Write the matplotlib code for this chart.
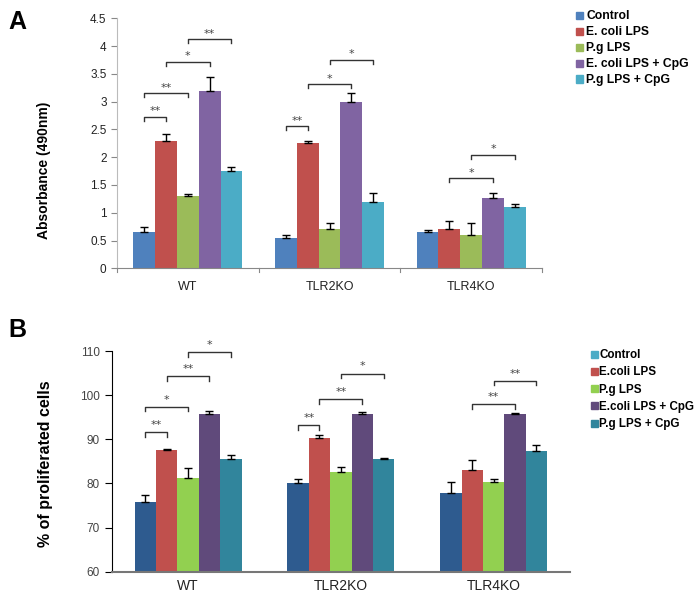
import numpy as np
import matplotlib
matplotlib.use("Agg")
from matplotlib import pyplot as plt

plt.rcParams["font.family"] = ["Liberation Sans", "DejaVu Sans"]

# Datos
grupos = ["WT", "TLR2KO", "TLR4KO"]

series_a = ["Control", "E. coli LPS", "P.g LPS", "E. coli LPS + CpG", "P.g LPS + CpG"]
valores_a = [
    [0.65, 0.55, 0.66],
    [2.30, 2.25, 0.70],
    [1.30, 0.70, 0.60],
    [3.20, 3.00, 1.26],
    [1.75, 1.20, 1.10],
]
errores_a = [
    [0.09, 0.05, 0.03],
    [0.12, 0.05, 0.15],
    [0.04, 0.11, 0.21],
    [0.24, 0.15, 0.10],
    [0.08, 0.15, 0.05],
]
colores_a = ["#4F81BD", "#C0504D", "#9BBB59", "#8064A2", "#4BACC6"]

series_b = ["Control", "E.coli LPS", "P.g LPS", "E.coli LPS + CpG", "P.g LPS + CpG"]
valores_b = [
    [75.9, 80.0, 77.9],
    [87.6, 90.4, 83.0],
    [81.2, 82.5, 80.3],
    [95.7, 95.7, 95.8],
    [85.6, 85.6, 87.4],
]
errores_b = [
    [1.5, 0.9, 2.5],
    [0.1, 0.5, 2.4],
    [2.4, 1.3, 0.6],
    [0.6, 0.4, 0.2],
    [0.9, 0.2, 1.3],
]
colores_b = ["#2E5B8F", "#C0504D", "#92D050", "#604A7B", "#31859C"]
color_leyenda_b = ["#4BACC6", "#C0504D", "#92D050", "#604A7B", "#31859C"]

# (grupo, barra i, barra j, altura, etiqueta)
signif_a = [
    (0, 0, 1, 2.73, "**"), (0, 0, 2, 3.15, "**"), (0, 1, 3, 3.72, "*"), (0, 2, 4, 4.12, "**"),
    (1, 0, 1, 2.56, "**"), (1, 1, 3, 3.31, "*"), (1, 2, 4, 3.75, "*"),
    (2, 1, 3, 1.62, "*"), (2, 2, 4, 2.04, "*"),
]
signif_b = [
    (0, 0, 1, 91.7, "**"), (0, 0, 2, 97.4, "*"), (0, 1, 3, 104.4, "**"), (0, 2, 4, 109.8, "*"),
    (1, 0, 1, 93.2, "**"), (1, 1, 3, 99.1, "**"), (1, 2, 4, 104.9, "*"),
    (2, 1, 3, 97.9, "**"), (2, 2, 4, 103.3, "**"),
]

fig = plt.figure(figsize=(7, 5.98), dpi=100)


def dibujar(ax, valores, errores, colores, ancho, signif, caida, sep):
    x = np.arange(len(grupos))
    n = len(valores)
    pos = []
    for i in range(n):
        xi = x + (i - (n - 1) / 2) * ancho
        pos.append(xi)
        ax.bar(xi, valores[i], ancho, color=colores[i], zorder=2)
        ax.errorbar(xi, valores[i], yerr=[np.zeros(len(grupos)), errores[i]],
                    fmt="none", ecolor="black", elinewidth=1.0, capsize=3,
                    capthick=1.0, zorder=3)
    for g, i, j, h, etiqueta in signif:
        x0, x1 = pos[i][g], pos[j][g]
        ax.plot([x0, x0, x1, x1], [h - caida, h, h, h - caida],
                color="#333333", lw=1.0, zorder=4, clip_on=False)
        ax.text((x0 + x1) / 2, h + sep, etiqueta, ha="center", va="center",
                fontsize=8, family="DejaVu Sans", color="#444444", clip_on=False)
    ax.set_xticks(x)
    ax.set_xticklabels(grupos)
    ax.set_xlim(-0.5, len(grupos) - 0.5)


# --- Panel A ---
ax1 = fig.add_axes([117 / 700, 329.7 / 598, 425 / 700, 250 / 598])
dibujar(ax1, valores_a, errores_a, colores_a, 0.154, signif_a, 0.07, 0.1)
ax1.set_ylim(0, 4.5)
ax1.set_yticks(np.arange(0, 4.51, 0.5))
ax1.set_yticklabels(["0", "0.5", "1", "1.5", "2", "2.5", "3", "3.5", "4", "4.5"])
for lado in ["top", "right"]:
    ax1.spines[lado].set_visible(False)
ax1.spines["left"].set_color("#BBBBBB")
ax1.spines["bottom"].set_color("#888888")
ax1.tick_params(axis="y", colors="#888888", labelcolor="#222222", labelsize=8.5, length=4)
ax1.tick_params(axis="x", length=0, labelsize=9, labelcolor="#222222", pad=9)
# marcas entre grupos en el eje x
for b in [-0.5, 0.5, 1.5, 2.5]:
    ax1.plot([b, b], [0, -0.06], color="#888888", lw=0.8, clip_on=False)
ax1.set_ylabel("Absorbance (490nm)", fontsize=10, fontweight="bold")
ax1.yaxis.set_label_coords(-0.155, 0.393)
manejadores = [plt.Rectangle((0, 0), 1, 1, color=c) for c in colores_a]
fig.legend(manejadores, series_a, loc="upper left", bbox_to_anchor=(568 / 700, 1 - 2 / 598),
           frameon=False, prop={"weight": "bold", "size": 8.7}, handlelength=0.55,
           handleheight=0.55, handletextpad=0.25, labelspacing=0.33, borderpad=0.2)

# --- Panel B ---
ax2 = fig.add_axes([111.7 / 700, 26.3 / 598, 458.3 / 700, 220.7 / 598])
dibujar(ax2, valores_b, errores_b, colores_b, 0.14, signif_b, 1.1, 1.6)
ax2.set_ylim(60, 110)
ax2.set_yticks(np.arange(60, 111, 10))
for lado in ["top", "right"]:
    ax2.spines[lado].set_visible(False)
ax2.spines["left"].set_color("black")
ax2.spines["bottom"].set_color("#777777")
ax2.spines["bottom"].set_linewidth(1.5)
ax2.tick_params(axis="y", colors="black", labelcolor="#444444", labelsize=8.5, length=5)
ax2.tick_params(axis="x", length=0, labelsize=10, labelcolor="#222222", pad=5)
ax2.set_ylabel("% of proliferated cells", fontsize=11.5, fontweight="bold")
ax2.yaxis.set_label_coords(-0.128, 0.49)
manejadores = [plt.Rectangle((0, 0), 1, 1, color=c) for c in color_leyenda_b]
fig.legend(manejadores, series_b, loc="upper left", bbox_to_anchor=(583 / 700, 1 - 341 / 598),
           frameon=False, prop={"weight": "bold", "size": 8.4}, handlelength=0.55,
           handleheight=0.55, handletextpad=0.15, labelspacing=0.45, borderpad=0.2)

fig.text(8 / 700, 1 - 22 / 598, "A", fontsize=18, fontweight="bold", va="center")
fig.text(8 / 700, 1 - 330 / 598, "B", fontsize=18, fontweight="bold", va="center")

fig.savefig("out.png", dpi=100)
